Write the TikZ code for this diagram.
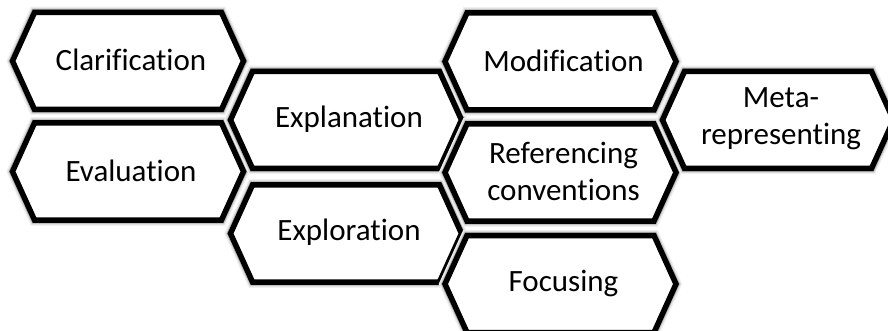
\documentclass[tikz,border=0pt]{standalone}
\usepackage{fontspec}
\setmainfont[Ligatures=CommonOff]{Carlito}
\tikzset{
  hexglowa/.style={draw=black!6, line width=11.5pt, line join=miter},
  hexglowb/.style={draw=black!14, line width=9pt, line join=miter},
  hexglowc/.style={draw=black!30, line width=7pt, line join=miter},
  hexborder/.style={draw=black, fill=white, line width=5.5pt, line join=miter},
  hexlabel/.style={align=center, inner sep=0pt, font=\fontsize{31}{37}\selectfont},
}
% hexagon outline centred at (x,y): half width 115.5, half height 48.5, slant 22
\newcommand{\hexoutline}[2]{(#1-115.5,#2) -- ++(22,-48.5) -- ++(187,0) -- ++(22,48.5)
  -- ++(-22,48.5) -- ++(-187,0) -- cycle}
% #1 node name, #2 x, #3 y, #4 label
\newcommand{\hexcell}[4]{%
  \path[hexglowa] \hexoutline{#2}{#3};
  \path[hexglowb] \hexoutline{#2}{#3};
  \path[hexglowc] \hexoutline{#2}{#3};
  \path[hexborder] \hexoutline{#2}{#3};
  \node[hexlabel] (#1) at (#2+3,#3-1) {#4};
}
\begin{document}
\begin{tikzpicture}[x=1pt,y=-1pt]
  \useasboundingbox (0,0) rectangle (888,331);
  \clip (0,0) rectangle (888,331);
  \fill[white] (0,0) rectangle (888,331);
  % first column
  \hexcell{clar}{128}{61}{Clarification}
  \hexcell{eval}{128}{171.5}{Evaluation}
  % second column
  \hexcell{expl}{346}{120}{Explanation}
  \hexcell{explo}{346}{233.5}{Exploration}
  % third column
  \hexcell{modi}{560.5}{61.5}{Modification}
  \hexcell{refc}{560.5}{172.5}{Referencing\\conventions}
  \hexcell{focu}{560.5}{284}{Focusing}
  % fourth column
  \hexcell{meta}{778}{120}{Meta-\\representing}
\end{tikzpicture}
\end{document}
